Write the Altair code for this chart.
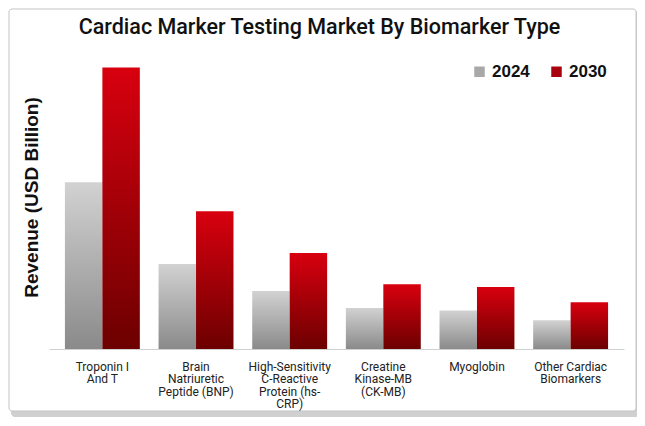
import altair as alt
import pandas as pd

categories = [
    "Troponin I\nAnd T",
    "Brain\nNatriuretic\nPeptide (BNP)",
    "High-Sensitivity\nC-Reactive\nProtein (hs-\nCRP)",
    "Creatine\nKinase-MB\n(CK-MB)",
    "Myoglobin",
    "Other Cardiac\nBiomarkers",
]
values_2024 = [5.92, 3.02, 2.06, 1.46, 1.37, 1.02]
values_2030 = [10.0, 4.89, 3.41, 2.30, 2.20, 1.66]
years = ["2024", "2030"]

rows = []
for c, a, b in zip(categories, values_2024, values_2030):
    rows.append({"Biomarker": c, "Year": "2024", "Revenue": a})
    rows.append({"Biomarker": c, "Year": "2030", "Revenue": b})
df = pd.DataFrame(rows)

W, H = 575, 294

grad_gray = alt.Gradient(
    gradient="linear", x1=0, y1=0, x2=0, y2=1,
    stops=[alt.GradientStop(color="#d2d2d2", offset=0),
           alt.GradientStop(color="#8a8a8a", offset=1)],
)
grad_red = alt.Gradient(
    gradient="linear", x1=0, y1=0, x2=0, y2=1,
    stops=[alt.GradientStop(color="#d8000f", offset=0),
           alt.GradientStop(color="#6c0000", offset=1)],
)

x_enc = alt.X(
    "Biomarker:N", sort=categories,
    scale=alt.Scale(paddingInner=0.2, paddingOuter=0.17),
    axis=alt.Axis(
        title=None, labelAngle=0, ticks=False, labelPadding=12,
        labelExpr="split(datum.label, '\\n')", labelFontSize=12,
        labelColor="#222222", labelFont="Roboto", labelLineHeight=12.5,
        domainColor="#d0d0d0", labelBaseline="top", zindex=1,
    ),
)
y_enc = alt.Y(
    "Revenue:Q", scale=alt.Scale(domain=[0, 10.44], nice=False),
    axis=alt.Axis(
        title="Revenue (USD Billion)", labels=False, ticks=False, domain=False,
        grid=False, titleFontSize=19, titleFont="Liberation Sans",
        titleFontWeight="bold", titleColor="#111111", titlePadding=8,
        titleY=142, zindex=1,
    ),
)
xoff = alt.XOffset("Year:N", sort=years)

base = alt.Chart(df)
bars24 = base.transform_filter(alt.datum.Year == "2024").mark_bar(
    color=grad_gray).encode(x=x_enc, y=y_enc, xOffset=xoff)
bars30 = base.transform_filter(alt.datum.Year == "2030").mark_bar(
    color=grad_red).encode(x=x_enc, y=y_enc, xOffset=xoff)

legend_layer = base.mark_square(opacity=0, size=0).encode(
    x=x_enc, y=y_enc,
    color=alt.Color(
        "Year:N", sort=years,
        scale=alt.Scale(domain=years, range=["#a8a8a8", "#a8000c"]),
        legend=alt.Legend(
            title=None, orient="none", legendX=422, legendY=8,
            direction="horizontal", symbolType="square", symbolSize=110,
            symbolOpacity=1, symbolStrokeWidth=0, labelFontSize=17,
            labelFontWeight="bold", labelFont="Liberation Sans",
            labelColor="#111111", columnPadding=18, labelOffset=4, zindex=1,
        ),
    ),
)

frame_data = alt.Data(values=[{"k": 1}])
shadow = alt.Chart(frame_data).mark_rect(
    fill="#d0d0d0", cornerRadius=4).encode(
    x=alt.value(-38), x2=alt.value(590), y=alt.value(-44), y2=alt.value(362))
frame = alt.Chart(frame_data).mark_rect(
    fill="white", stroke="#c4c4c4", strokeWidth=1, cornerRadius=3).encode(
    x=alt.value(-40), x2=alt.value(587), y=alt.value(-46), y2=alt.value(356))

chart = alt.layer(shadow, frame, bars24, bars30, legend_layer).properties(
    width=W, height=H,
    title=alt.TitleParams(
        "Cardiac Marker Testing Market By Biomarker Type",
        anchor="middle", frame="group", dx=-17, dy=47, offset=17,
        fontSize=21.5, font="Roboto", fontWeight=500, color="#111111",
        zindex=1,
    ),
    autosize=alt.AutoSizeParams(type="none"),
    padding={"left": 41, "top": 47, "right": 13, "bottom": 69},
).configure_view(stroke=None).configure(background="white")

chart.save("out.html", embed_options={"renderer": "svg", "actions": False})
